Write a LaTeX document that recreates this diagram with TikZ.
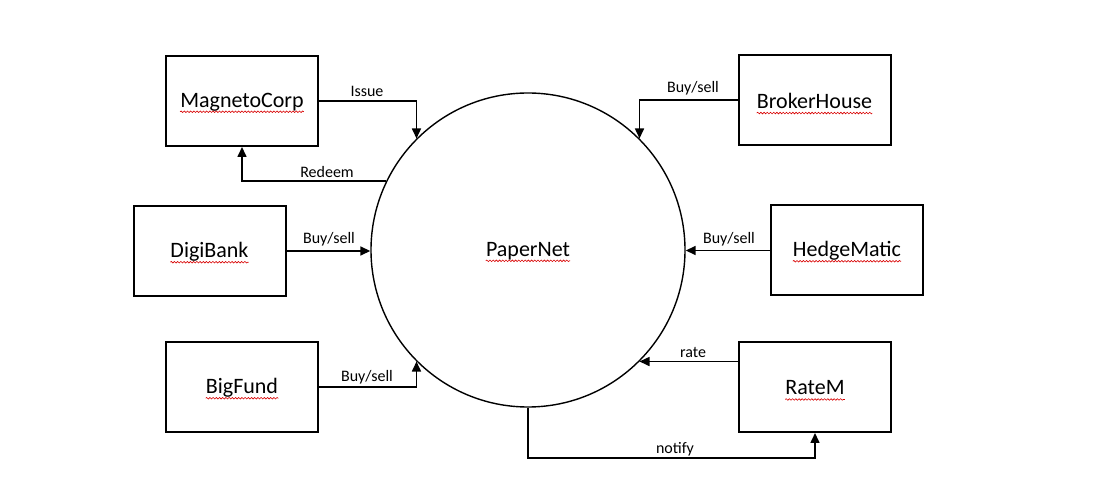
\documentclass[tikz,border=0pt]{standalone}
\usepackage{fontspec}
\setmainfont{Carlito}
\usetikzlibrary{arrows.meta,decorations.pathmorphing}
\begin{document}
\begin{tikzpicture}[x=1pt,y=-1pt,
  box/.style={draw=black,line width=2pt,minimum width=152pt,minimum height=90pt,inner sep=0pt},
  boxtext/.style={inner sep=0pt,font=\fontsize{22}{26}\selectfont},
  lbl/.style={inner sep=0pt,font=\fontsize{16}{19}\selectfont},
  conn/.style={line width=1.6pt,-{Triangle[length=10pt,width=9pt]}},
  squig/.style={draw=red!85!black,line width=0.6pt,decorate,decoration={snake,segment length=3.2pt,amplitude=0.8pt}}]
\path[use as bounding box,fill=white] (0,0) rectangle (1101,502);

% central circle
\node[draw=black,line width=1.4pt,circle,minimum size=314pt,inner sep=0pt] (pn) at (528,250) {};
\node[boxtext] (pnt) at (528,251) {PaperNet};

% boxes
\node[box] (mc) at (242,101) {};
\node[boxtext] (mct) at (242,102) {MagnetoCorp};
\node[box] (bh) at (814.5,100) {};
\node[boxtext] (bht) at (814.5,101) {BrokerHouse};
\node[box] (db) at (209.5,251) {};
\node[boxtext] (dbt) at (209.5,252) {DigiBank};
\node[box] (hm) at (847,250.5) {};
\node[boxtext] (hmt) at (847,251) {HedgeMatic};
\node[box] (bf) at (242,387) {};
\node[boxtext] (bft) at (242,388) {BigFund};
\node[box] (rm) at (815,387) {};
\node[boxtext] (rmt) at (815,388) {RateM};

% spell-check underlines
\foreach \t in {pnt,mct,bht,dbt,hmt,bft,rmt}{
  \draw[squig] ([yshift=-4.5pt]\t.base west) -- ([yshift=-4.5pt]\t.base east);
}

% connectors
\draw[conn] (mc.east) -| (pn.135);
\draw[conn] (pn.154) -| (mc.south);
\draw[conn] (bh.west) -| (pn.45);
\draw[conn] (db.east) -- (db.east -| pn.west);
\draw[conn] (hm.west) -- (hm.west -| pn.east);
\draw[conn] (bf.east) -| (pn.225);
\draw[conn] (pn.-45 -| rm.west) -- (pn.-45);
\coordinate (nt) at (670,458);
\draw[conn] (pn.south) |- (nt) -| (rm.south);

% labels
\node[lbl] (l1) at (367,91) {Issue};
\node[lbl] (l2) at (327,172) {Redeem};
\node[lbl] (l3) at (693,88) {Buy/sell};
\node[lbl] (l4) at (329,239) {Buy/sell};
\node[lbl] (l5) at (729,239) {Buy/sell};
\node[lbl] (l6) at (367,377) {Buy/sell};
\node[lbl] (l7) at (693,353) {rate};
\node[lbl] (l8) at (675,449) {notify};
\end{tikzpicture}
\end{document}
